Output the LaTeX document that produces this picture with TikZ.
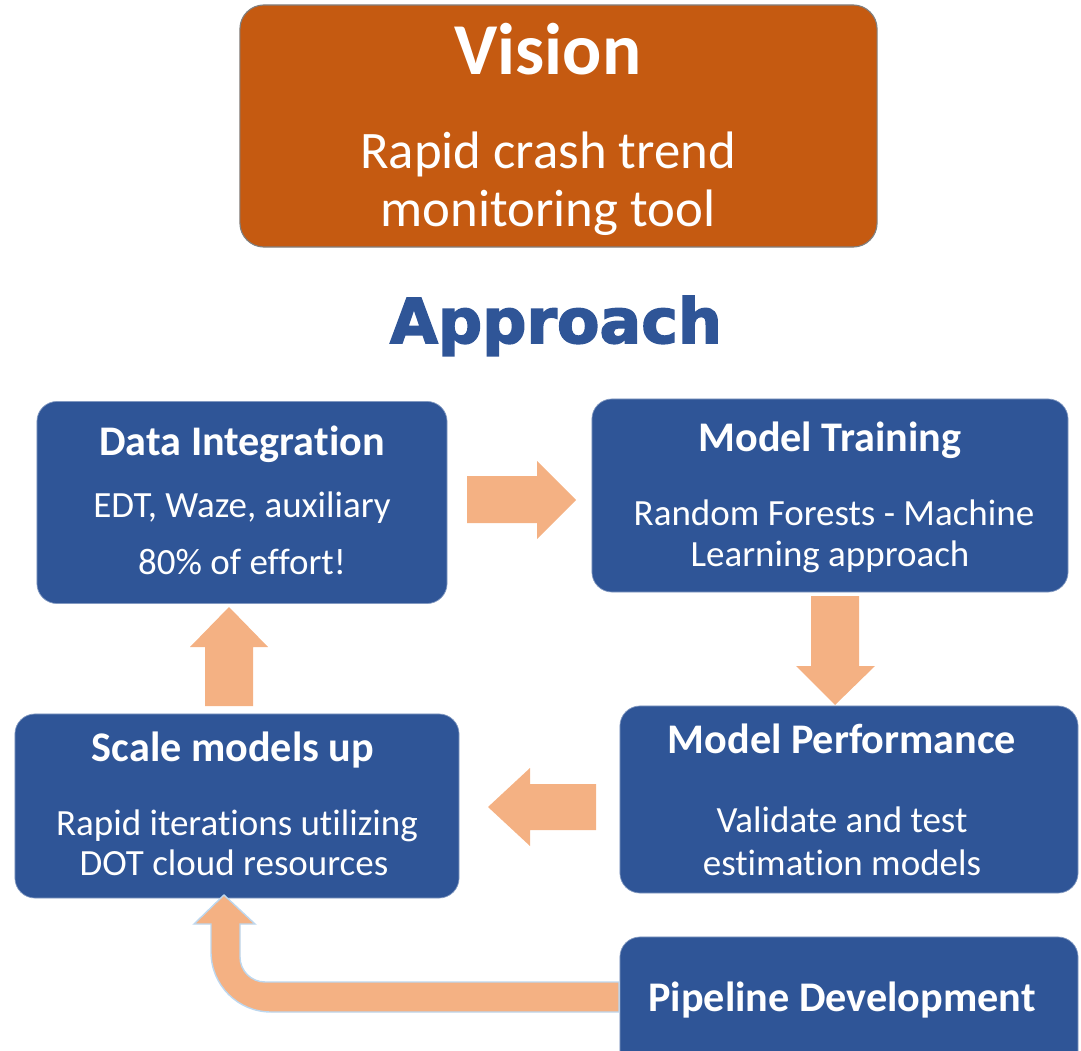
\documentclass[tikz,border=0pt]{standalone}
\usepackage{fontspec}
\setmainfont{Carlito}[Ligatures={NoCommon}]
\newfontfamily\headfont{DejaVu Sans}[BoldFeatures={FakeBold=2.5}]
\usetikzlibrary{positioning, calc}
\definecolor{boxblue}{HTML}{2F5597}
\definecolor{visionfill}{HTML}{C55A11}
\definecolor{arrowfill}{HTML}{F4B183}
\definecolor{bendedge}{HTML}{BDD7EE}

\begin{document}
\begin{tikzpicture}[x=0.025cm, y=0.025cm,
    panel/.style={fill=boxblue, draw=boxblue!60!white, line width=0.5pt, rounded corners=0.5cm, inner sep=0pt, outer sep=0pt},
    title/.style={text=white, anchor=base, inner sep=0pt, font=\fontsize{30}{36}\selectfont\bfseries},
    body/.style={text=white, anchor=base, inner sep=0pt, font=\fontsize{26.3}{32}\selectfont},
    flatarrow/.style={fill=arrowfill}]

    \useasboundingbox (0,0) rectangle (1081,-1051);

    % vision
    \node [fill=visionfill, draw=gray, line width=0.8pt, rounded corners=0.6cm, inner sep=0pt,
           minimum width=15.925cm, minimum height=6.05cm] (vision) at (558.5,-126) {};
    \node [anchor=base, text=white, inner sep=0pt, font=\fontsize{52}{60}\selectfont\bfseries] (visiontitle) at (548,-75) {Vision};
    \node [anchor=base, text=white, inner sep=0pt, font=\fontsize{37.5}{42}\selectfont] (visionline1) at (548,-169) {Rapid crash trend};
    \node [anchor=base, text=white, inner sep=0pt, font=\fontsize{37.5}{42}\selectfont] (visionline2) at (548,-227) {monitoring tool};

    \node [anchor=base, text=boxblue, inner sep=0pt, font=\headfont\fontsize{44}{50}\selectfont\bfseries] (approach) at (556,-343) {Approach};

    % the five steps
    \node [panel, minimum width=10.25cm, minimum height=5.05cm] (integ) at (242,-502.5) {};
    \node [panel, minimum width=11.9cm, minimum height=4.825cm] (train) at (830,-495.5) {};
    \node [panel, minimum width=11.45cm, minimum height=4.675cm] (perf) at (849,-799.5) {};
    \node [panel, minimum width=11.1cm, minimum height=4.6cm] (scale) at (237,-806) {};
    \node [panel, minimum width=11.45cm, minimum height=4.5cm] (pipe) at (849,-1027) {};

    \node [title] (integtitle) at (242,-455) {Data Integration};
    \node [body] (integline1) at (242,-517) {EDT, Waze, auxiliary};
    \node [body] (integline2) at (242,-574) {80\% of effort!};

    \node [title] (traintitle) at (830,-451) {Model Training};
    \node [body] (trainline1) at (834,-525) {Random Forests - Machine};
    \node [body] (trainline2) at (830,-566) {Learning approach};

    \node [title] (perftitle) at (842,-753) {Model Performance};
    \node [body] (perfline1) at (842,-832) {Validate and test};
    \node [body] (perfline2) at (842,-875) {estimation models};

    \node [title] (scaletitle) at (233,-761) {Scale models up};
    \node [body] (scaleline1) at (237,-835) {Rapid iterations utilizing};
    \node [body] (scaleline2) at (234,-875) {DOT cloud resources};

    \node [title] (pipetitle) at (842,-1011) {Pipeline Development};

    % arrows between the steps
    \fill [flatarrow] (467,-476) -- (537,-476) -- (537,-461) -- (576,-500) -- (537,-539) -- (537,-523) -- (467,-523) -- cycle;
    \fill [flatarrow] (811,-596) -- (859,-596) -- (859,-666) -- (875,-666) -- (835,-705) -- (796,-666) -- (811,-666) -- cycle;
    \fill [flatarrow] (596,-784) -- (530,-784) -- (530,-768) -- (488,-807) -- (530,-846) -- (530,-830) -- (596,-830) -- cycle;
    \fill [flatarrow] (205,-706) -- (205,-647) -- (190,-647) -- (229,-607) -- (268,-647) -- (253,-647) -- (253,-706) -- cycle;

    \filldraw [flatarrow, draw=bendedge, line width=1pt]
        (619,-982) -- (265,-982) arc (270:180:25) -- (240,-924) -- (255,-924) -- (224,-895)
        -- (194,-924) -- (211,-924) -- (211,-952) arc (180:270:60) -- (619,-1012) -- cycle;
\end{tikzpicture}
\end{document}
